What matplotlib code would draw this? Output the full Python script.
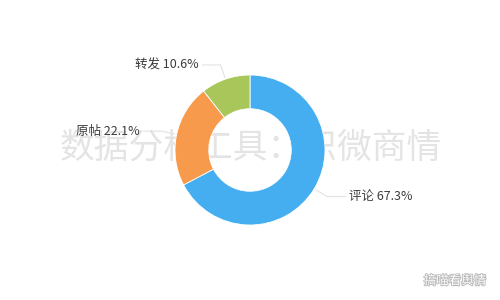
import matplotlib.pyplot as plt
import matplotlib.patheffects as pe
import numpy as np

plt.rcParams['font.family'] = ['Noto Sans CJK SC', 'DejaVu Sans']

# share of posts by type, drawn clockwise from 12 o'clock
labels = ['评论', '原帖', '转发']
shares = [67.3, 22.1, 10.6]
colors = ['#45aef1', '#f89a4b', '#a9c65b']

fig = plt.figure(figsize=(5, 3), dpi=100)
ax = fig.add_axes([0, 0, 1, 1])

cx, cy, R = 250, 150, 75

# watermark sits behind the ring
ax.text(251, 152, '数据分析工具：识微商情', fontsize=25, color='#e4e4e4',
        ha='center', va='center', zorder=0)

wedges, _ = ax.pie(shares, colors=colors, startangle=90, counterclock=False,
                   center=(cx, cy), radius=R, frame=True,
                   wedgeprops=dict(width=R * 0.45, edgecolor='white',
                                   linewidth=0.6, zorder=2))
ax.set_xlim(0, 500)
ax.set_ylim(0, 300)
ax.set_aspect('equal')
ax.axis('off')

for w, lab, s in zip(wedges, labels, shares):
    ang = np.deg2rad((w.theta1 + w.theta2) / 2)
    x0, y0 = cx + (R + 2) * np.cos(ang), cy + (R + 2) * np.sin(ang)
    x1, y1 = cx + (R + 15) * np.cos(ang), cy + (R + 15) * np.sin(ang)
    side = 1 if np.cos(ang) >= 0 else -1
    x2 = x1 + side * 18
    ax.plot([x0, x1, x2], [y0, y1, y1], color='#e2e2e2', lw=0.8, zorder=3)
    ax.text(x2 + side * 4, y1, f'{lab} {s}%', fontsize=9, color='#3c3c3c',
            ha='left' if side > 0 else 'right', va='center', zorder=4)

ax.text(455, 19, '搞喵看舆情', fontsize=9, color='white', ha='center', va='center',
        zorder=5, path_effects=[pe.withStroke(linewidth=1.2, foreground='#b5b5b5')])

plt.savefig('out.png', dpi=100)
